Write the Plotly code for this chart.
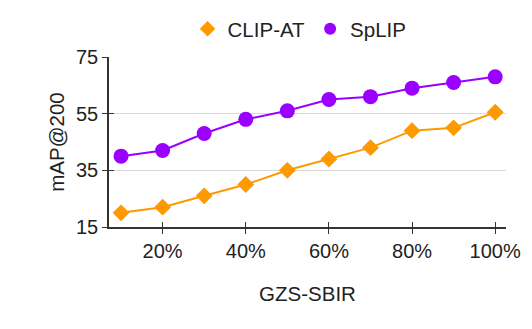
import plotly.graph_objects as go

# fraction of training data (%)
pct = [10, 20, 30, 40, 50, 60, 70, 80, 90, 100]
clip_at = [20, 22, 26, 30, 35, 39, 43, 49, 50, 55.5]
splip = [40, 42, 48, 53, 56, 60, 61, 64, 66, 68]

x_ticks = [20, 40, 60, 80, 100]
x_labels = ['20%', '40%', '60%', '80%', '100%']
y_ticks = [15, 35, 55, 75]

orange = '#ff9900'
purple = '#9900ff'
x_range = [7.1, 102.6]
y_range = [15, 75]

fig = go.Figure()

fig.add_trace(go.Scatter(x=pct, y=clip_at, mode='lines+markers', name='CLIP-AT',
                         line=dict(color=orange, width=2), showlegend=False,
                         marker=dict(symbol='diamond', size=13, color=orange)))

fig.add_trace(go.Scatter(x=pct, y=splip, mode='lines+markers', name='SpLIP',
                         line=dict(color=purple, width=2), showlegend=False,
                         marker=dict(symbol='circle', size=15, color=purple)))

# marker-only legend entries
fig.add_trace(go.Scatter(x=[None], y=[None], mode='markers', name='CLIP-AT',
                         marker=dict(symbol='diamond', size=10, color=orange)))
fig.add_trace(go.Scatter(x=[None], y=[None], mode='markers', name='SpLIP',
                         marker=dict(symbol='circle', size=11, color=purple)))

# empty trace on overlay axes so the inner half of the tick marks is drawn
fig.add_trace(go.Scatter(x=[None], y=[None], xaxis='x2', yaxis='y2', showlegend=False,
                         hoverinfo='skip'))

# the page body adds an 8px margin, so the figure is 8px smaller each way
fig.update_layout(
    width=524, height=321,
    margin=dict(l=101, r=26, t=49, b=102, autoexpand=False),
    paper_bgcolor='white', plot_bgcolor='white',
    font=dict(family='Liberation Sans, Arial, sans-serif', size=20, color='#222'),
    legend=dict(orientation='h', x=0.48, xanchor='center', y=1.165, yanchor='middle',
                font=dict(size=20.5), itemsizing='constant', itemwidth=30, tracegroupgap=0),
    xaxis=dict(range=x_range, tickvals=x_ticks, ticktext=x_labels,
               automargin=False, showgrid=False, zeroline=False,
               showline=True, linecolor='#333', linewidth=1.5,
               ticks='outside', ticklen=5, tickcolor='#333',
               title=dict(text='GZS-SBIR', standoff=26, font=dict(size=20.5))),
    yaxis=dict(range=y_range, tickvals=y_ticks, automargin=False,
               showgrid=True, gridcolor='#d9d9d9', zeroline=False,
               showline=True, linecolor='#333', linewidth=1.5,
               ticks='outside', ticklen=5, tickcolor='#333',
               title=dict(text='mAP@200', standoff=6, font=dict(size=20.5))),
    xaxis2=dict(overlaying='x', anchor='y2', range=x_range, tickvals=x_ticks,
                showticklabels=False, showgrid=False, zeroline=False,
                ticks='inside', ticklen=5, tickcolor='#333', tickwidth=1),
    yaxis2=dict(overlaying='y', anchor='x2', range=y_range, tickvals=y_ticks,
                showticklabels=False, showgrid=False, zeroline=False,
                ticks='inside', ticklen=5, tickcolor='#333', tickwidth=1),
)

fig.write_html("out.html")
